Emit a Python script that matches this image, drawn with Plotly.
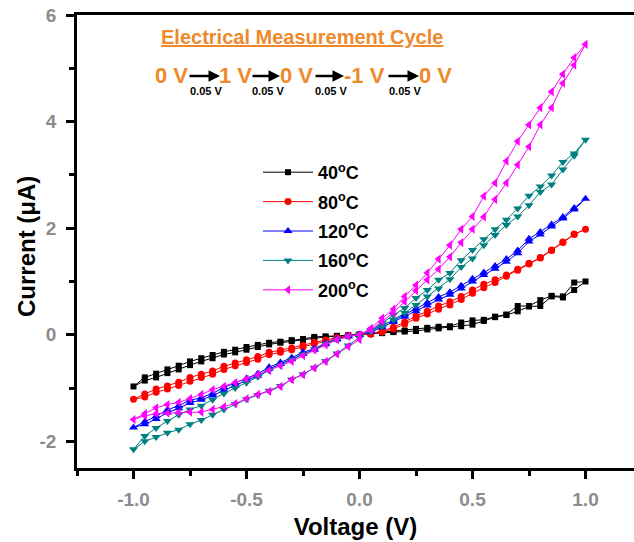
import plotly.graph_objects as go

# Voltage sweep: 0 V -> 1 V -> 0 V -> -1 V -> 0 V in 0.05 V steps
V_UP = [0.00, 0.05, 0.10, 0.15, 0.20, 0.25, 0.30, 0.35, 0.40, 0.45, 0.50,
        0.55, 0.60, 0.65, 0.70, 0.75, 0.80, 0.85, 0.90, 0.95, 1.00]
V_DOWN = [0.95, 0.90, 0.85, 0.80, 0.75, 0.70, 0.65, 0.60, 0.55, 0.50,
          0.45, 0.40, 0.35, 0.30, 0.25, 0.20, 0.15, 0.10, 0.05, 0.00]
V_NEG = [-0.05, -0.10, -0.15, -0.20, -0.25, -0.30, -0.35, -0.40, -0.45, -0.50,
         -0.55, -0.60, -0.65, -0.70, -0.75, -0.80, -0.85, -0.90, -0.95, -1.00]
V_RET = [-0.95, -0.90, -0.85, -0.80, -0.75, -0.70, -0.65, -0.60, -0.55, -0.50,
         -0.45, -0.40, -0.35, -0.30, -0.25, -0.20, -0.15, -0.10, -0.05, 0.00]

# Current (uA) for each leg of the sweep
I40_UP = [0.00, 0.02, 0.03, 0.05, 0.06, 0.07, 0.10, 0.12, 0.14, 0.16, 0.19,
          0.26, 0.33, 0.37, 0.44, 0.53, 0.54, 0.72, 0.70, 0.84, 1.00]
I40_DOWN = [0.98, 0.72, 0.73, 0.65, 0.54, 0.54, 0.38, 0.34, 0.28, 0.27,
            0.23, 0.16, 0.15, 0.13, 0.11, 0.08, 0.06, 0.04, 0.02, 0.00]
I40_NEG = [-0.01, -0.02, -0.03, -0.04, -0.08, -0.10, -0.13, -0.15, -0.19, -0.23,
           -0.28, -0.32, -0.38, -0.44, -0.50, -0.58, -0.65, -0.73, -0.80, -0.97]
I40_RET = [-0.86, -0.80, -0.72, -0.65, -0.57, -0.50, -0.44, -0.37, -0.33, -0.28,
           -0.23, -0.18, -0.15, -0.12, -0.10, -0.06, -0.04, -0.03, -0.01, 0.00]

I80_UP = [0.00, 0.01, 0.05, 0.11, 0.20, 0.31, 0.39, 0.48, 0.56, 0.66, 0.78,
          0.88, 0.98, 1.10, 1.21, 1.33, 1.44, 1.58, 1.73, 1.88, 1.98]
I80_DOWN = [1.89, 1.74, 1.59, 1.45, 1.34, 1.23, 1.12, 1.03, 0.95, 0.84,
            0.72, 0.62, 0.54, 0.44, 0.35, 0.24, 0.14, 0.07, 0.02, 0.00]
I80_NEG = [-0.01, -0.05, -0.10, -0.14, -0.20, -0.25, -0.29, -0.33, -0.41, -0.47,
           -0.53, -0.59, -0.68, -0.74, -0.80, -0.89, -0.96, -1.02, -1.11, -1.21]
I80_RET = [-1.17, -1.08, -1.02, -0.95, -0.87, -0.80, -0.74, -0.65, -0.58, -0.52,
           -0.46, -0.37, -0.33, -0.28, -0.23, -0.17, -0.12, -0.07, -0.02, 0.00]

I120_UP = [0.00, 0.05, 0.14, 0.24, 0.34, 0.44, 0.55, 0.66, 0.75, 0.87, 1.00,
           1.12, 1.24, 1.37, 1.53, 1.75, 1.88, 2.03, 2.18, 2.35, 2.55]
I120_DOWN = [2.38, 2.21, 2.07, 1.93, 1.80, 1.58, 1.42, 1.29, 1.17, 1.05,
             0.92, 0.80, 0.71, 0.60, 0.49, 0.38, 0.27, 0.18, 0.08, 0.00]
I120_NEG = [-0.02, -0.08, -0.16, -0.26, -0.33, -0.43, -0.52, -0.61, -0.73, -0.82,
            -0.91, -0.99, -1.10, -1.18, -1.23, -1.33, -1.41, -1.53, -1.63, -1.74]
I120_RET = [-1.68, -1.58, -1.46, -1.38, -1.28, -1.22, -1.14, -1.04, -0.95, -0.86,
            -0.77, -0.64, -0.55, -0.46, -0.36, -0.28, -0.18, -0.09, -0.03, 0.00]

I160_UP = [0.00, 0.06, 0.16, 0.28, 0.41, 0.56, 0.72, 0.87, 1.04, 1.27, 1.43,
           1.68, 1.87, 2.06, 2.22, 2.43, 2.68, 2.82, 3.10, 3.36, 3.66]
I160_DOWN = [3.40, 3.24, 2.99, 2.78, 2.61, 2.37, 2.16, 1.98, 1.79, 1.59,
             1.40, 1.16, 1.03, 0.84, 0.69, 0.50, 0.37, 0.22, 0.09, 0.00]
I160_NEG = [-0.03, -0.09, -0.17, -0.27, -0.37, -0.47, -0.57, -0.67, -0.79, -0.90,
            -1.00, -1.10, -1.22, -1.33, -1.40, -1.50, -1.62, -1.75, -1.90, -2.15]
I160_RET = [-2.00, -1.92, -1.84, -1.78, -1.68, -1.60, -1.50, -1.40, -1.30, -1.21,
            -1.13, -1.05, -0.96, -0.84, -0.74, -0.62, -0.49, -0.35, -0.20, -0.05]

I200_UP = [0.00, 0.09, 0.25, 0.41, 0.62, 0.83, 1.03, 1.23, 1.46, 1.73, 1.98,
           2.21, 2.54, 2.85, 3.19, 3.53, 3.94, 4.26, 4.72, 5.06, 5.45]
I200_DOWN = [5.20, 4.89, 4.56, 4.26, 3.94, 3.63, 3.26, 2.85, 2.60, 2.22,
             1.98, 1.68, 1.42, 1.16, 0.93, 0.72, 0.48, 0.31, 0.12, 0.00]
I200_NEG = [-0.03, -0.09, -0.19, -0.29, -0.39, -0.50, -0.58, -0.67, -0.75, -0.83,
            -0.90, -0.97, -1.03, -1.12, -1.20, -1.27, -1.31, -1.37, -1.48, -1.59]
I200_RET = [-1.52, -1.48, -1.47, -1.46, -1.45, -1.45, -1.40, -1.35, -1.29, -1.20,
            -1.12, -1.06, -0.97, -0.84, -0.75, -0.62, -0.50, -0.36, -0.22, -0.09]

TEMPS = ["40", "80", "120", "160", "200"]
CURRENTS = {
    "40": (I40_UP, I40_DOWN, I40_NEG, I40_RET),
    "80": (I80_UP, I80_DOWN, I80_NEG, I80_RET),
    "120": (I120_UP, I120_DOWN, I120_NEG, I120_RET),
    "160": (I160_UP, I160_DOWN, I160_NEG, I160_RET),
    "200": (I200_UP, I200_DOWN, I200_NEG, I200_RET),
}
COLORS = {"40": "#000000", "80": "#FF0000", "120": "#0000FF",
          "160": "#008080", "200": "#FF00FF"}
SYMBOLS = {"40": "square", "80": "circle", "120": "triangle-up",
           "160": "triangle-down", "200": "triangle-left"}
SIZES = {"40": 6, "80": 7, "120": 8, "160": 8, "200": 8}

# axis ticks and their labels (plain hyphen for negatives)
X_TICKS = [-1.0, -0.5, 0.0, 0.5, 1.0]
X_TICK_LABELS = ["-1.0", "-0.5", "0.0", "0.5", "1.0"]
Y_TICKS = [-2, 0, 2, 4, 6]
Y_TICK_LABELS = ["-2", "0", "2", "4", "6"]

V_ALL = V_UP + V_DOWN + V_NEG + V_RET

FONT = "Arial, 'Liberation Sans', sans-serif"
ORANGE = "#EE8A2C"

fig = go.Figure()
for t in TEMPS:
    up, down, neg, ret = CURRENTS[t]
    fig.add_trace(go.Scatter(
        x=V_ALL, y=up + down + neg + ret,
        mode="lines+markers",
        name=f"<b>{t}<sup>o</sup>C</b>",
        legendgroup=t,
        line=dict(color=COLORS[t], width=1),
        marker=dict(symbol=SYMBOLS[t], size=SIZES[t], color=COLORS[t]),
    ))

# page geometry of the plotting area (pixels)
W, H = 634, 542
L, R, T, B = 77, 634, 15, 468


def px(x):
    return (x - L) / (R - L)


def py(y):
    return (B - y) / (B - T)


annotations = [
    dict(text="<b>Electrical Measurement Cycle</b>", x=px(302), y=py(37),
         font=dict(size=20, color=ORANGE, family=FONT, lineposition="under")),
    dict(text="<b>Current (μA)</b>", x=px(27), y=py(247), textangle=-90,
         font=dict(size=24, color="black", family=FONT)),
]
for txt, cx in [("0 V", 171), ("1 V", 235), ("0 V", 296), ("-1 V", 364), ("0 V", 435)]:
    annotations.append(dict(text=f"<b>{txt}</b>", x=px(cx), y=py(75),
                            font=dict(size=22, color=ORANGE, family=FONT)))
for x0, x1 in [(188, 220), (251, 280), (314, 344), (387, 419)]:
    annotations.append(dict(text="", x=px(x1), y=py(76), ax=x0 - x1, ay=0,
                            showarrow=True, arrowhead=2, arrowsize=1.0,
                            arrowwidth=2.3, arrowcolor="black"))
    annotations.append(dict(text="<b>0.05 V</b>", x=px((x0 + x1) / 2 + 2), y=py(91),
                            font=dict(size=11, color="black", family=FONT)))
for a in annotations:
    a.setdefault("xref", "paper")
    a.setdefault("yref", "paper")
    a.setdefault("showarrow", False)
    a.setdefault("xanchor", "center")
    a.setdefault("yanchor", "middle")

axis_common = dict(
    showline=True, linecolor="black", linewidth=2.5,
    ticks="outside", ticklen=8, tickwidth=2.5, tickcolor="black",
    showgrid=False, zeroline=False,
    tickfont=dict(family=FONT, size=19, color="#8C8C8C", weight="bold"),
)

fig.update_layout(
    width=W, height=H,
    margin=dict(l=L, r=W - R, t=T, b=H - B),
    paper_bgcolor="white", plot_bgcolor="white",
    showlegend=True,
    legend=dict(x=px(258), y=py(154), xanchor="left", yanchor="top",
                font=dict(family=FONT, size=18, color="black"),
                bgcolor="rgba(0,0,0,0)", itemwidth=50, tracegroupgap=3,
                itemclick=False),
    annotations=annotations,
    xaxis=dict(
        range=[-1.25, 1.2146],
        tickmode="array", tickvals=X_TICKS, ticktext=X_TICK_LABELS,
        mirror=True, ticklabelstandoff=4,
        minor=dict(dtick=0.25, tick0=0, ticks="outside", ticklen=5,
                   tickwidth=2.5, tickcolor="black"),
        title=dict(text="<b>Voltage (V)</b>", standoff=10,
                   font=dict(family=FONT, size=24, color="black")),
        **axis_common,
    ),
    yaxis=dict(
        range=[-2.5, 6],
        tickmode="array", tickvals=Y_TICKS, ticktext=Y_TICK_LABELS,
        mirror=False, ticklabelstandoff=6,
        minor=dict(dtick=1, tick0=0, ticks="outside", ticklen=5,
                   tickwidth=2.5, tickcolor="black"),
        **axis_common,
    ),
)

fig.write_html("out.html")
